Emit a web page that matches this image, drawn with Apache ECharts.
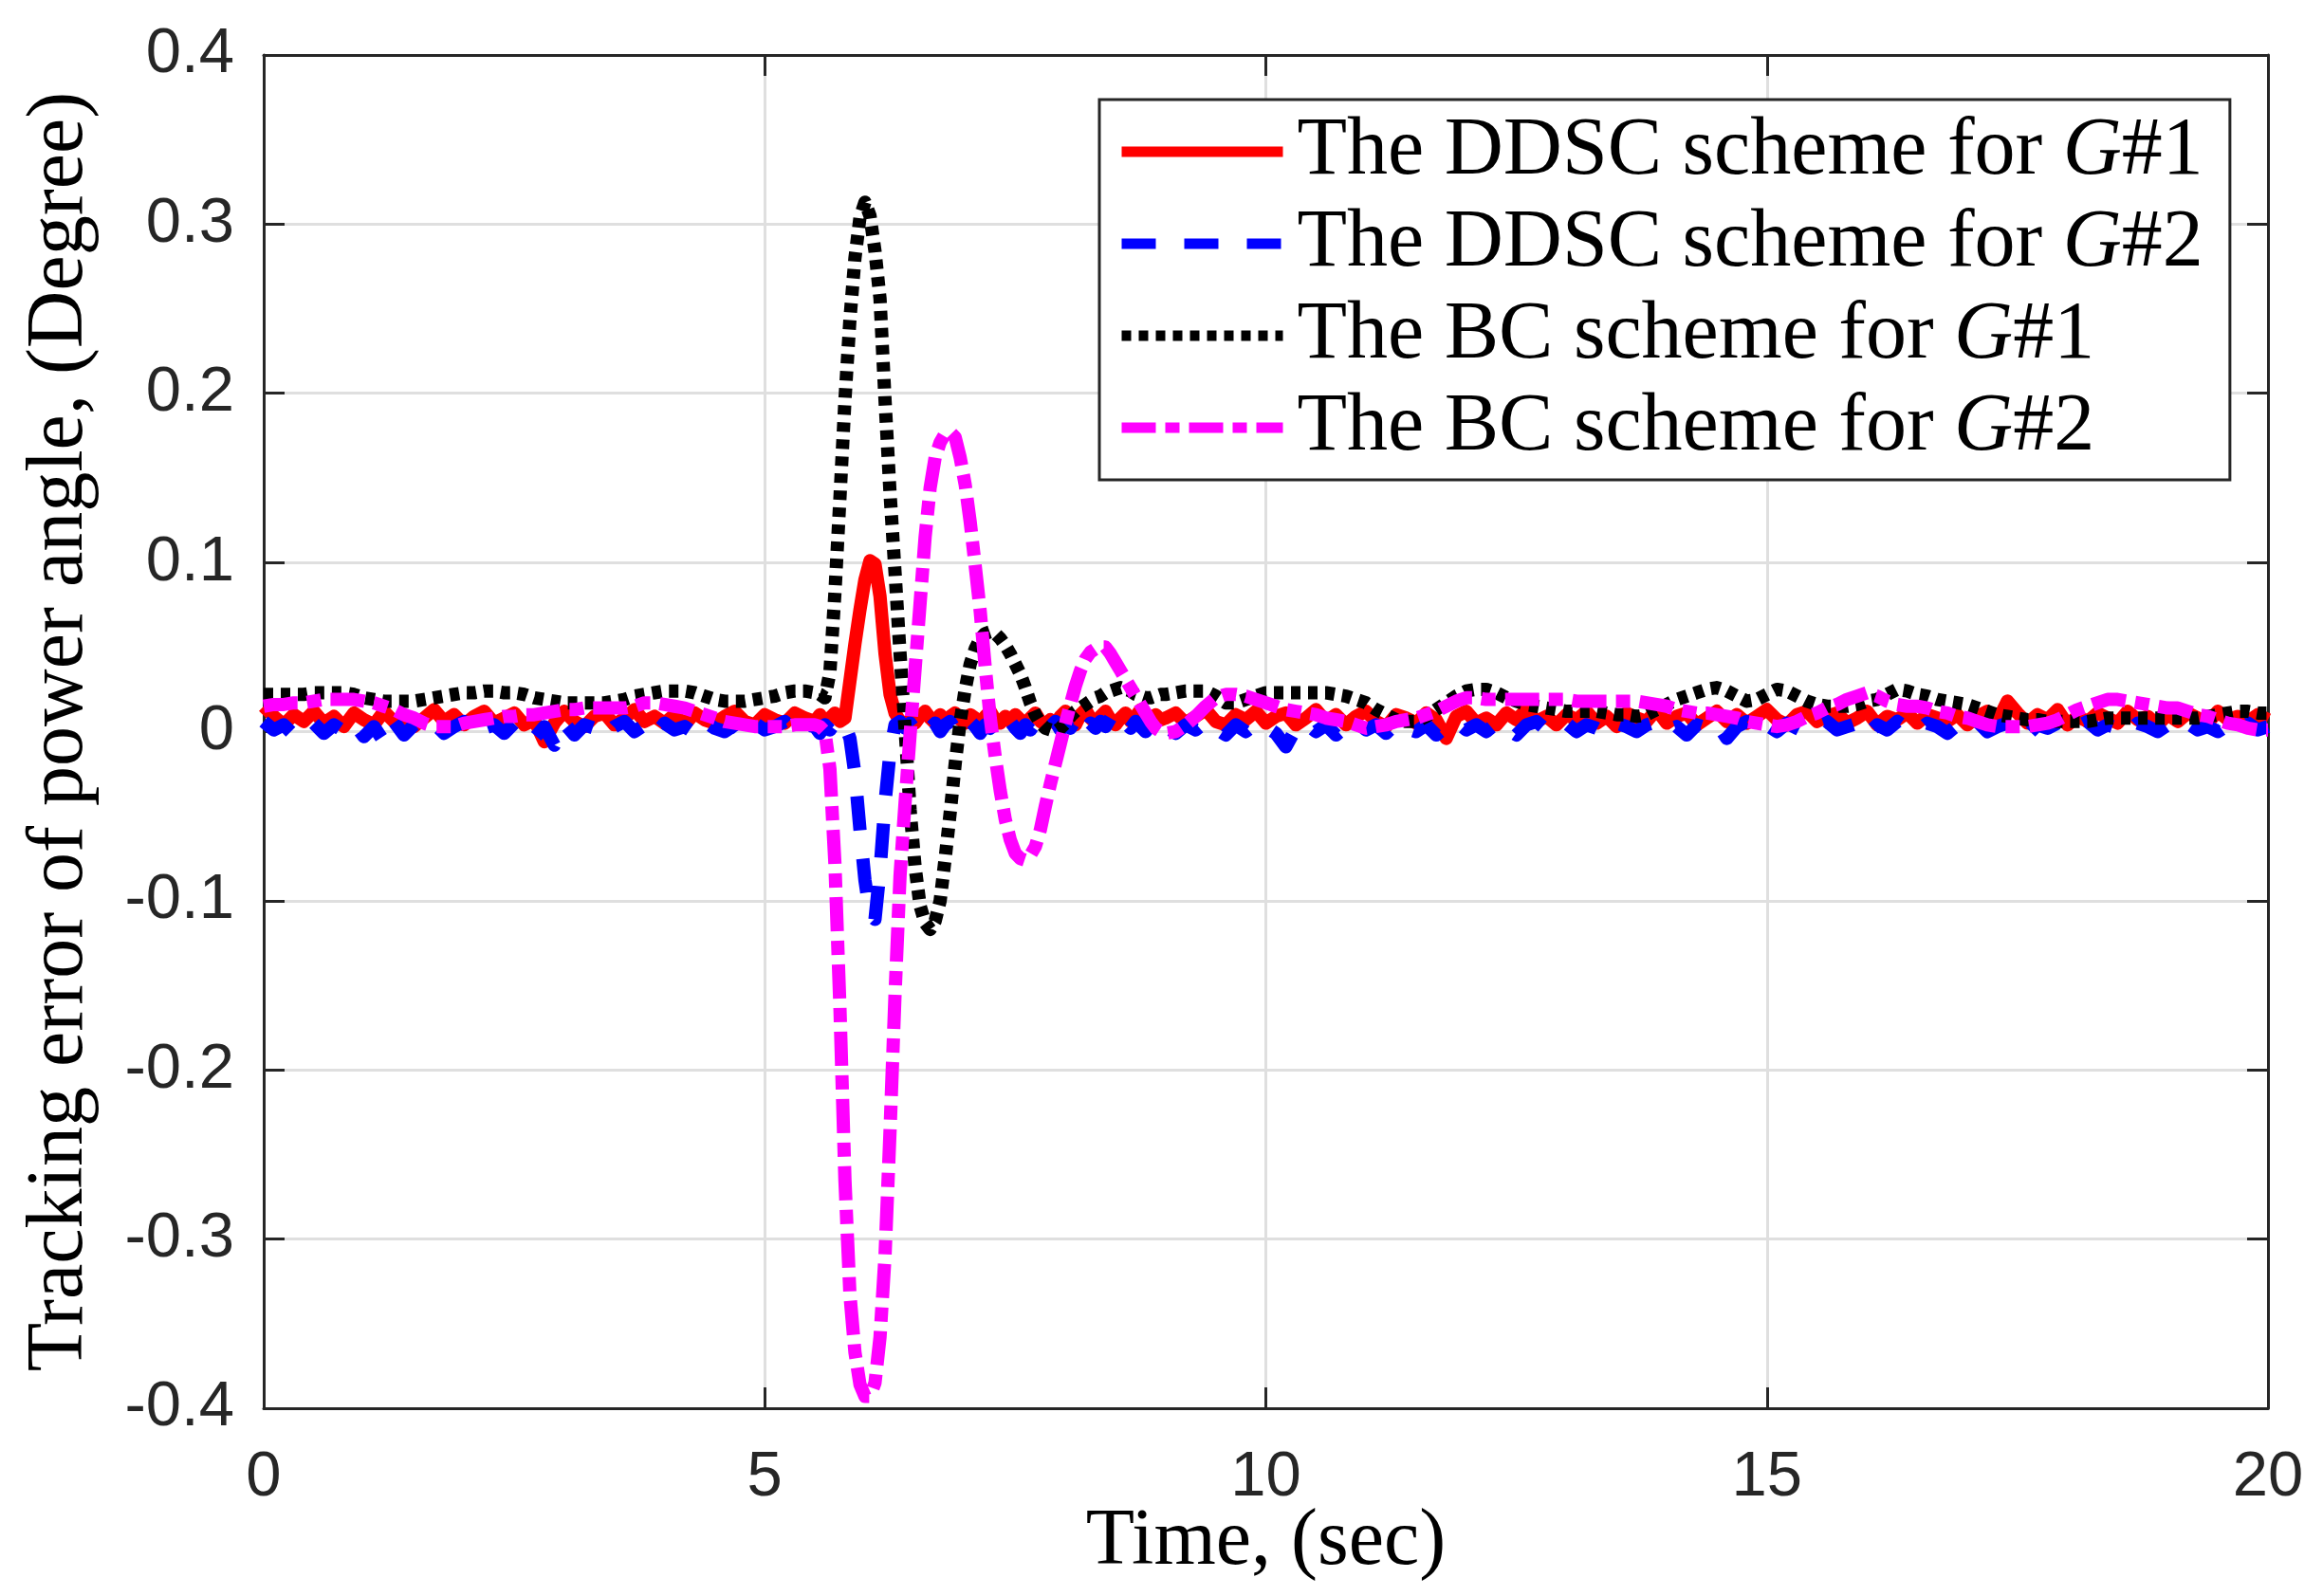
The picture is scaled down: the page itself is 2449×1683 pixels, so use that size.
<!DOCTYPE html>
<html>
<head>
<meta charset="utf-8">
<script src="https://cdn.jsdelivr.net/npm/echarts@6/dist/echarts.min.js"></script>
<style>
  html, body { margin: 0; padding: 0; background: #fff; }
  #chart { width: 2449px; height: 1683px; }
</style>
</head>
<body>
<div id="chart"></div>
<script>
// sample times (sec): 0.1 s steps, 0.05 s through the disturbance
const timeA = [
  0, 0.1, 0.2, 0.3, 0.4, 0.5, 0.6, 0.7, 0.8, 0.9,
  1, 1.1, 1.2, 1.3, 1.4, 1.5, 1.6, 1.7, 1.8, 1.9,
  2, 2.1, 2.2, 2.3, 2.4, 2.5, 2.6, 2.7, 2.8, 2.9,
  3, 3.1, 3.2, 3.3, 3.4, 3.5, 3.6, 3.7, 3.8, 3.9,
  4, 4.1, 4.2, 4.3, 4.4, 4.5, 4.6, 4.7, 4.8, 4.9,
  5, 5.1, 5.2, 5.3, 5.4
];
const timeB = [
  5.5, 5.55, 5.6, 5.65, 5.7, 5.75, 5.8, 5.85, 5.9, 5.95,
  6, 6.05, 6.1, 6.15, 6.2, 6.25, 6.3, 6.35, 6.4, 6.45,
  6.5, 6.55, 6.6, 6.65, 6.7, 6.75, 6.8, 6.85, 6.9, 6.95,
  7, 7.05, 7.1, 7.15, 7.2, 7.25, 7.3, 7.35, 7.4, 7.45,
  7.5, 7.55, 7.6, 7.65, 7.7, 7.75, 7.8, 7.85, 7.9, 7.95,
  8, 8.05, 8.1, 8.15, 8.2, 8.25, 8.3, 8.35, 8.4, 8.45,
  8.5, 8.55, 8.6, 8.65, 8.7, 8.75, 8.8, 8.85, 8.9, 8.95
];
const timeC = [
  9, 9.1, 9.2, 9.3, 9.4, 9.5, 9.6, 9.7, 9.8, 9.9,
  10, 10.1, 10.2, 10.3, 10.4, 10.5, 10.6, 10.7, 10.8, 10.9,
  11, 11.1, 11.2, 11.3, 11.4, 11.5, 11.6, 11.7, 11.8, 11.9,
  12, 12.1, 12.2, 12.3, 12.4, 12.5, 12.6, 12.7, 12.8, 12.9,
  13, 13.1, 13.2, 13.3, 13.4, 13.5, 13.6, 13.7, 13.8, 13.9,
  14, 14.1, 14.2, 14.3, 14.4, 14.5, 14.6, 14.7, 14.8, 14.9,
  15, 15.1, 15.2, 15.3, 15.4, 15.5, 15.6, 15.7, 15.8, 15.9,
  16, 16.1, 16.2, 16.3, 16.4, 16.5, 16.6, 16.7, 16.8, 16.9,
  17, 17.1, 17.2, 17.3, 17.4, 17.5, 17.6, 17.7, 17.8, 17.9,
  18, 18.1, 18.2, 18.3, 18.4, 18.5, 18.6, 18.7, 18.8, 18.9,
  19, 19.1, 19.2, 19.3, 19.4, 19.5, 19.6, 19.7, 19.8, 19.9,
  20
];
const time = timeA.concat(timeB, timeC);

// DDSC scheme, G#1
const ddscG1 = [
  .015,.009,.004,.010,.006,.012,.005,.009,.003,.011,
  .007,.004,.012,.006,.009,.003,.008,.013,.006,.010,
  .004,.009,.012,.005,.008,.011,.004,.007,-.006,.005,
  .012,.006,.003,.009,.011,.004,.008,.013,.006,.009,
  .005,.010,.004,.011,.007,.005,.009,.012,.006,.004,
  .010,.007,.005,.011,.008,
  .006,.010,.005,.008,.011,.006,.008,.030,.052,.072,
  .090,.101,.099,.080,.046,.022,.011,.006,.004,.007,
  .005,.009,.012,.008,.005,.010,.006,.009,.011,.007,
  .005,.010,.008,.004,.009,.012,.007,.005,.009,.006,
  .010,.007,.004,.008,.011,.006,.004,.007,.005,.009,
  .012,.006,.004,.010,.013,.008,.005,.009,.012,.007,
  .004,.008,.011,.006,.009,.013,.007,.005,.010,.007,
  .008,.011,.005,.009,.013,.006,.004,.010,.007,.012,
  .005,.009,.011,.004,.008,.013,.006,.010,.004,.009,
  .012,.006,.003,.010,.008,.005,.011,.007,-.004,.009,
  .012,.005,.008,.004,.011,.007,.013,.006,.009,.004,
  .010,.007,.012,.005,.009,.003,.011,.008,.006,.013,
  .005,.009,.011,.004,.008,.012,.006,.010,.005,.009,
  .013,.007,.004,.010,.012,.006,.009,.011,.005,.008,
  .012,.004,.009,.007,.011,.005,.010,.008,.006,.010,
  .004,.009,.012,.006,.018,.011,.005,.010,.007,.013,
  .004,.009,.006,.011,.008,.005,.012,.007,.009,.004,
  .010,.006,.011,.008,.005,.012,.007,.009,.006,.010,
  .007
];

// DDSC scheme, G#2
const ddscG2 = [
  .006,.001,.004,-.002,.003,.005,-.001,.004,.000,.005,
  -.003,.003,-.006,.006,-.002,.004,.000,.005,-.001,.003,
  .006,-.002,.002,.004,-.001,.005,.001,-.004,.003,-.008,
  .005,-.002,.004,.002,-.003,.003,.006,.000,.004,-.002,
  .005,.001,.003,-.001,.006,.002,.000,.004,-.003,.005,
  .001,.003,.006,.000,.004,
  .003,-.001,.004,.001,.005,.002,.004,-.004,-.025,-.058,
  -.088,-.108,-.111,-.082,-.042,-.012,.004,.006,.002,.005,
  .001,.004,.006,.002,.005,.000,.004,.006,.001,.004,
  .002,.006,.003,-.001,.004,.002,.005,.000,.003,.006,
  .002,-.001,.004,.001,.005,.002,-.001,.003,.006,.001,
  .004,.002,.007,.003,.000,.005,.002,.006,.003,.008,
  .004,.001,.005,.002,.006,.003,.000,.004,.007,.002,
  .003,-.001,.004,.001,.006,.002,-.002,.004,.000,.005,
  .003,-.001,-.009,.002,.005,.000,.004,-.002,.003,.006,
  .001,.004,-.001,.005,.002,.000,.004,-.002,.003,.006,
  .001,.004,.000,.005,.002,-.002,.004,.006,.001,.003,
  .005,.000,.004,.002,-.001,.005,.003,.000,.004,.006,
  .001,.003,-.002,.004,.002,.005,-.004,.003,.006,.001,
  .004,.000,.005,.002,-.001,.004,.006,.001,.003,.005,
  -.002,.004,.001,.006,.002,.000,.005,.003,-.001,.004,
  .002,.006,.000,.003,.005,.001,-.002,.004,.002,.005,
  .000,.003,.006,.001,.004,.002,-.001,.005,.003,.000,
  .004,.002,.005,.001,.003,.000,.004,.002,.005,.001,
  .003
];

// BC scheme, G#1
const bcG1 = [
  .022,.022,.022,.022,.022,.023,.023,.023,.023,.022,
  .020,.019,.018,.018,.018,.018,.019,.020,.021,.022,
  .023,.023,.024,.024,.023,.023,.022,.020,.019,.018,
  .017,.017,.017,.017,.017,.018,.019,.021,.022,.023,
  .024,.024,.024,.023,.021,.019,.018,.018,.018,.019,
  .020,.021,.023,.024,.024,
  .023,.022,.020,.035,.082,.138,.196,.244,.280,.304,
  .313,.305,.284,.256,.196,.141,.094,.046,.002,-.046,
  -.080,-.103,-.113,-.117,-.112,-.100,-.075,-.048,-.019,.006,
  .025,.040,.049,.055,.058,.059,.058,.055,.051,.046,
  .040,.034,.026,.017,.010,.005,.002,.001,.000,.002,
  .005,.009,.012,.014,.016,.018,.020,.021,.023,.024,
  .025,.026,.025,.024,.022,.021,.020,.020,.021,.022,
  .022,.023,.024,.024,.024,.021,.017,.017,.019,.021,
  .023,.023,.023,.023,.023,.023,.023,.022,.021,.019,
  .017,.013,.010,.007,.006,.006,.009,.013,.017,.021,
  .024,.025,.025,.023,.020,.018,.016,.015,.014,.013,
  .012,.012,.012,.012,.011,.010,.010,.009,.010,.013,
  .016,.019,.021,.023,.025,.026,.024,.021,.018,.019,
  .022,.025,.024,.021,.018,.016,.015,.015,.015,.016,
  .018,.019,.022,.025,.024,.022,.021,.019,.018,.017,
  .016,.014,.012,.010,.009,.008,.007,.007,.006,.006,
  .006,.006,.006,.007,.008,.008,.008,.008,.008,.008,
  .008,.008,.008,.008,.009,.010,.011,.012,.012,.011,
  .011
];

// BC scheme, G#2
const bcG2 = [
  .015,.016,.016,.017,.017,.018,.019,.019,.019,.019,
  .018,.017,.015,.013,.010,.008,.005,.003,.003,.003,
  .005,.006,.007,.008,.009,.009,.010,.010,.011,.012,
  .013,.013,.014,.014,.014,.014,.014,.015,.017,.017,
  .016,.015,.014,.012,.010,.008,.006,.005,.004,.003,
  .003,.003,.003,.004,.004,
  .004,.003,.000,-.022,-.078,-.163,-.265,-.333,-.367,-.386,
  -.393,-.393,-.385,-.358,-.310,-.236,-.155,-.085,-.042,-.002,
  .037,.076,.115,.144,.162,.171,.176,.177,.174,.162,
  .146,.124,.098,.071,.038,.008,-.015,-.035,-.052,-.064,
  -.072,-.075,-.076,-.073,-.068,-.058,-.044,-.031,-.019,-.007,
  .005,.016,.027,.036,.043,.047,.049,.050,.050,.046,
  .041,.036,.031,.026,.021,.016,.011,.006,.002,.000,
  -.001,.000,.004,.009,.015,.020,.022,.022,.021,.019,
  .017,.015,.013,.012,.011,.010,.008,.007,.006,.004,
  .002,.003,.004,.006,.007,.008,.010,.012,.015,.018,
  .020,.020,.019,.019,.019,.019,.019,.019,.019,.019,
  .019,.018,.018,.018,.018,.018,.018,.018,.017,.016,
  .015,.013,.012,.011,.011,.010,.009,.008,.006,.005,
  .004,.003,.004,.006,.009,.011,.014,.016,.019,.021,
  .023,.021,.018,.016,.015,.015,.014,.012,.011,.009,
  .008,.006,.004,.003,.003,.003,.003,.004,.005,.007,
  .010,.013,.015,.017,.019,.019,.018,.017,.016,.015,
  .014,.014,.012,.010,.009,.007,.005,.004,.002,.001,
  .001
];

const seriesNames = [
  'The DDSC scheme for G#1',
  'The DDSC scheme for G#2',
  'The BC scheme for G#1',
  'The BC scheme for G#2'
];
const xTicks = [0, 5, 10, 15, 20];
const yTicks = [-0.4, -0.3, -0.2, -0.1, 0, 0.1, 0.2, 0.3, 0.4];

const serif = '"Liberation Serif", "Times New Roman", serif';
const sans = '"Liberation Sans", Arial, sans-serif';
const ink = '#262626';

function pairs(values) {
  return time.map((t, i) => [t, values[i]]);
}

function makeLine(name, values, color, dash) {
  return {
    name: name,
    type: 'line',
    data: pairs(values),
    symbol: 'none',
    showSymbol: false,
    lineStyle: { width: 14, color: color, type: dash, join: 'round' },
    itemStyle: { color: color }
  };
}

const chart = echarts.init(document.getElementById('chart'), null, { renderer: 'canvas' });

const axisCommon = {
  type: 'value',
  axisLine: { show: true, onZero: false, lineStyle: { color: ink, width: 3 } },
  axisTick: { show: true, inside: true, length: 22, lineStyle: { color: ink, width: 3 } }
};

const option = {
  animation: false,
  backgroundColor: '#fff',
  grid: { left: 278, right: 58, top: 58, bottom: 198, containLabel: false },
  legend: {
    orient: 'vertical',
    left: 1159,
    top: 105,
    padding: [10, 28, 10, 18],
    itemGap: 7,
    itemWidth: 170,
    itemHeight: 22,
    backgroundColor: '#fff',
    borderColor: ink,
    borderWidth: 3,
    selectedMode: false,
    data: seriesNames,
    itemStyle: { opacity: 0 },
    lineStyle: { width: 11 },
    formatter: (name) => name.replace('G#', '{g|G}#'),
    textStyle: {
      fontFamily: serif,
      fontSize: 86,
      lineHeight: 90,
      color: '#000',
      padding: [0, 0, 0, 10],
      rich: {
        g: { fontFamily: serif, fontSize: 86, lineHeight: 90, fontStyle: 'italic', color: '#000' }
      }
    }
  },
  xAxis: [
    Object.assign({}, axisCommon, {
      position: 'bottom',
      min: xTicks[0],
      max: xTicks[xTicks.length - 1],
      interval: 5,
      name: 'Time, (sec)',
      nameLocation: 'middle',
      nameGap: 100,
      nameMoveOverlap: false,
      nameTextStyle: { fontFamily: serif, fontSize: 84, color: '#000' },
      axisLabel: { margin: 40, fontFamily: sans, fontSize: 67, color: ink },
      splitLine: { show: true, lineStyle: { color: '#dfdfdf', width: 3 } }
    }),
    Object.assign({}, axisCommon, {
      position: 'top',
      min: xTicks[0],
      max: xTicks[xTicks.length - 1],
      interval: 5,
      axisLabel: { show: false },
      splitLine: { show: false }
    })
  ],
  yAxis: [
    Object.assign({}, axisCommon, {
      position: 'left',
      min: yTicks[0],
      max: yTicks[yTicks.length - 1],
      interval: 0.1,
      name: 'Tracking error of power angle, (Degree)',
      nameLocation: 'middle',
      nameGap: 172,
      nameMoveOverlap: false,
      nameTextStyle: { fontFamily: serif, fontSize: 84, color: '#000' },
      axisLabel: {
        margin: 31,
        fontFamily: sans,
        fontSize: 67,
        color: ink,
        formatter: (v) => String(Math.round(v * 10) / 10)
      },
      splitLine: { show: true, lineStyle: { color: '#dfdfdf', width: 3 } }
    }),
    Object.assign({}, axisCommon, {
      position: 'right',
      min: yTicks[0],
      max: yTicks[yTicks.length - 1],
      interval: 0.1,
      axisLabel: { show: false },
      splitLine: { show: false }
    })
  ],
  series: [
    makeLine(seriesNames[0], ddscG1, '#ff0000', 'solid'),
    makeLine(seriesNames[1], ddscG2, '#0000ff', [36, 30]),
    makeLine(seriesNames[2], bcG1, '#000000', [10, 8]),
    makeLine(seriesNames[3], bcG2, '#ff00ff', [36, 10, 15, 10])
  ]
};

chart.setOption(option);
</script>
</body>
</html>
